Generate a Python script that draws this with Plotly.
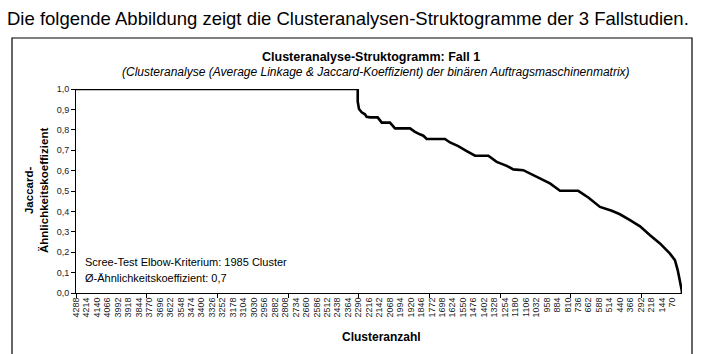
import plotly.graph_objects as go

# Cluster count (x) and Jaccard similarity coefficient (y)
cluster_count = [4288, 2295, 2295, 2286, 2267, 2244, 2232, 2208, 2154, 2137, 2125, 2067,
                 2031, 1925, 1890, 1855, 1831, 1807, 1678, 1642, 1584, 1524, 1465, 1371,
                 1312, 1241, 1194, 1124, 1076, 1006, 935, 864, 735, 664, 581, 498, 440,
                 369, 298, 227, 157, 86, 51, 31, 15, 3, 1]
similarity = [1.0, 1.0, 0.938, 0.902, 0.886, 0.876, 0.864, 0.861, 0.861, 0.843, 0.835, 0.835,
              0.807, 0.807, 0.790, 0.778, 0.771, 0.755, 0.755, 0.738, 0.720, 0.696, 0.673, 0.673,
              0.643, 0.623, 0.606, 0.602, 0.586, 0.562, 0.537, 0.501, 0.501, 0.468, 0.422, 0.403,
              0.386, 0.357, 0.327, 0.283, 0.243, 0.193, 0.161, 0.111, 0.062, 0.013, 0.0]

x_tick_labels = [4288, 4214, 4140, 4066, 3992, 3918, 3844, 3770, 3696, 3622, 3548, 3474,
                 3400, 3326, 3252, 3178, 3104, 3030, 2956, 2882, 2808, 2734, 2660, 2586,
                 2512, 2438, 2364, 2290, 2216, 2142, 2068, 1994, 1920, 1846, 1772, 1698,
                 1624, 1550, 1476, 1402, 1328, 1254, 1180, 1106, 1032, 958, 884, 810,
                 736, 662, 588, 514, 440, 366, 292, 218, 144, 70]
x_tick_marks = [4288, 3788, 3288, 2788, 2288, 1788, 1288, 788, 288]
y_tick_values = [0.0, 0.1, 0.2, 0.3, 0.4, 0.5, 0.6, 0.7, 0.8, 0.9, 1.0]

FONT = "Arial, Liberation Sans, sans-serif"
TICK_COLOR = "#222222"

fig = go.Figure()
fig.add_trace(go.Scatter(
    x=cluster_count, y=similarity, mode="lines",
    line=dict(color="black", width=2.6), hoverinfo="skip", showlegend=False,
))

fig.update_layout(
    width=714, height=354,
    margin=dict(l=76, r=32, t=89, b=61),
    paper_bgcolor="white", plot_bgcolor="white",
    separators=",.",
    font=dict(family=FONT, color="black", size=9),
    showlegend=False,
)

fig.update_xaxes(
    range=[4288, 1], showgrid=False, zeroline=False,
    showline=True, linecolor="black", linewidth=1,
    tickmode="array", tickvals=x_tick_labels, ticktext=[str(v) for v in x_tick_labels],
    ticks="", tickangle=-90, tickfont=dict(size=9, family=FONT, color=TICK_COLOR),
    minor=dict(tickvals=x_tick_marks, ticks="outside", ticklen=4, tickcolor="black", tickwidth=1),
)
fig.update_yaxes(
    range=[0, 1.0], showgrid=False, zeroline=False,
    showline=True, linecolor="black", linewidth=1,
    tickmode="array", tickvals=y_tick_values, tickformat=".1f",
    ticks="outside", ticklen=4, tickcolor="black",
    tickfont=dict(size=9, family=FONT, color=TICK_COLOR),
)

# Outer frame around the chart
fig.add_shape(type="rect", xref="paper", yref="paper",
              x0=-0.1056, x1=1.0165, y0=-0.45, y1=1.25,
              line=dict(color="black", width=1.2), fillcolor="rgba(0,0,0,0)", layer="below")

fig.add_annotation(text="Die folgende Abbildung zeigt die Clusteranalysen-Struktogramme der 3 Fallstudien.",
                   xref="paper", yref="paper", x=-0.117, y=1.348, xanchor="left", yanchor="middle",
                   showarrow=False, font=dict(size=18.5, family=FONT, color="black"))
fig.add_annotation(text="<b>Clusteranalyse-Struktogramm: Fall 1</b>",
                   xref="paper", yref="paper", x=0.487, y=1.157, xanchor="center", yanchor="middle",
                   showarrow=False, font=dict(size=12.5, family=FONT, color="black"))
fig.add_annotation(text="<i>(Clusteranalyse (Average Linkage &amp; Jaccard-Koeffizient) der binären Auftragsmaschinenmatrix)</i>",
                   xref="paper", yref="paper", x=0.495, y=1.083, xanchor="center", yanchor="middle",
                   showarrow=False, font=dict(size=12, family=FONT, color="black"))
fig.add_annotation(text="Scree-Test Elbow-Kriterium: 1985 Cluster",
                   xref="paper", yref="paper", x=0.0116, y=0.153, xanchor="left", yanchor="middle",
                   showarrow=False, font=dict(size=11, family=FONT, color="black"))
fig.add_annotation(text="Ø-Ähnlichkeitskoeffizient: 0,7",
                   xref="paper", yref="paper", x=0.0116, y=0.074, xanchor="left", yanchor="middle",
                   showarrow=False, font=dict(size=11, family=FONT, color="black"))
fig.add_annotation(text="<b>Clusteranzahl</b>",
                   xref="paper", yref="paper", x=0.504, y=-0.216, xanchor="center", yanchor="middle",
                   showarrow=False, font=dict(size=12, family=FONT, color="black"))
fig.add_annotation(text="<b>Jaccard-<br>Ähnlichkeitskoeffizient</b>",
                   xref="paper", yref="paper", x=-0.066, y=0.5, xanchor="center", yanchor="middle",
                   textangle=-90, showarrow=False, font=dict(size=11.5, family=FONT, color="black"))

fig.write_html("out.html")
